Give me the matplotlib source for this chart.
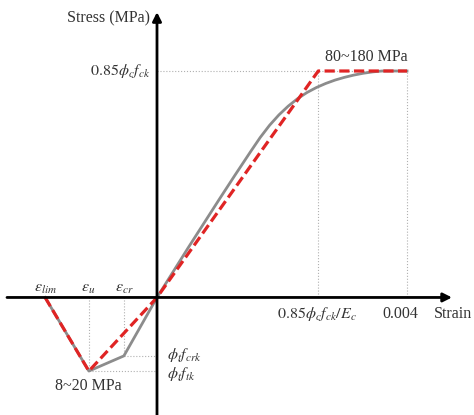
import numpy as np
import matplotlib
matplotlib.use("Agg")
import matplotlib.pyplot as plt

plt.rcParams['font.family'] = ['Liberation Serif', 'DejaVu Serif']
plt.rcParams['mathtext.fontset'] = 'stix'

# strain in 1e-3, stress normalised by 0.85*phi_c*f_ck
eps_lim = -1.79
eps_u = -1.09
eps_cr = -0.53
eps_peak = 2.58
eps_cu = 4.0

sig_c = 1.0
sig_crk = -0.258
sig_tk = -0.325

# idealised (red dashed) model
red_eps = [eps_lim, eps_u, 0.0, eps_peak, eps_cu]
red_sig = [0.0, sig_tk, 0.0, sig_c, sig_c]

gray_eps = [eps_lim, eps_u, eps_cr, 0.0, 0.5, 1.0, 1.25, 1.5, 1.65, 1.8, 1.95, 2.1,
            2.25, 2.4, 2.55, 2.7, 2.85, 3.0, 3.15, 3.3, 3.45, 3.6, eps_cu]
gray_sig = [0.0, sig_tk, sig_crk, 0.0, 0.22, 0.435, 0.541, 0.645, 0.706, 0.760, 0.806, 0.845,
            0.878, 0.905, 0.927, 0.945, 0.960, 0.972, 0.982, 0.990, 0.996, 1.0, 1.0]

fig = plt.figure(figsize=(4.74, 4.15), dpi=100)
ax = fig.add_axes([0, 0, 1, 1])
ax.set_xlim(-2.512, 5.072)
ax.set_ylim(-0.519, 1.3135)
ax.axis('off')

# guide lines
dot = dict(color='#b0b0b0', lw=0.8, ls=':')
ax.plot([0, eps_cu], [sig_c, sig_c], **dot)
ax.plot([eps_peak, eps_peak], [0, sig_c], **dot)
ax.plot([eps_cu, eps_cu], [0, sig_c], **dot)
ax.plot([eps_u, eps_u], [0, sig_tk], **dot)
ax.plot([eps_cr, eps_cr], [0, sig_crk], **dot)
ax.plot([eps_u, 0], [sig_tk, sig_tk], **dot)
ax.plot([eps_cr, 0], [sig_crk, sig_crk], **dot)

# axes with arrows
arr = dict(arrowstyle='-|>', lw=2, color='k', mutation_scale=13, shrinkA=0, shrinkB=0)
ax.annotate('', xy=(4.72, 0), xytext=(-2.4, 0), arrowprops=arr, zorder=5)
ax.annotate('', xy=(0, 1.26), xytext=(0, -0.519), arrowprops=arr, zorder=5)

ax.plot(gray_eps, gray_sig, color='#8c8c8c', lw=2, zorder=3, solid_joinstyle='round')
ax.plot(red_eps, red_sig, color='#e02424', lw=2.3, dashes=(3.2, 1.4), zorder=4)

fs = 11.5
tc = '#333333'
ax.text(-0.11, 1.234, 'Stress (MPa)', ha='right', va='center', fontsize=fs, color=tc)
ax.text(-0.11, sig_c, r'$0.85\phi_c f_{ck}$', ha='right', va='center', fontsize=fs, color=tc)
ax.text(3.35, 1.06, '80~180 MPa', ha='center', va='center', fontsize=fs, color=tc)
ax.text(2.56, -0.075, r'$0.85\phi_c f_{ck}/E_c$', ha='center', va='center', fontsize=fs, color=tc)
ax.text(3.9, -0.075, '0.004', ha='center', va='center', fontsize=fs, color=tc)
ax.text(4.73, -0.075, 'Strain', ha='center', va='center', fontsize=fs, color=tc)
ax.text(-1.79, 0.04, r'$\varepsilon_{lim}$', ha='center', va='center', fontsize=fs, color=tc)
ax.text(-1.10, 0.04, r'$\varepsilon_{u}$', ha='center', va='center', fontsize=fs, color=tc)
ax.text(-0.53, 0.04, r'$\varepsilon_{cr}$', ha='center', va='center', fontsize=fs, color=tc)
ax.text(-1.10, -0.39, '8~20 MPa', ha='center', va='center', fontsize=fs, color=tc)
ax.text(0.16, -0.255, r'$\phi_t f_{crk}$', ha='left', va='center', fontsize=fs, color=tc)
ax.text(0.16, -0.34, r'$\phi_t f_{tk}$', ha='left', va='center', fontsize=fs, color=tc)

fig.savefig('out.png', dpi=100)
